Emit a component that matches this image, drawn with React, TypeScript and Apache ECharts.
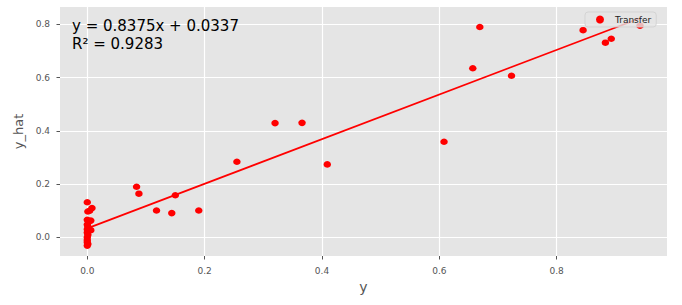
import React, { useEffect, useRef } from "react";
import * as echarts from "echarts";

// Observed values (y) and predictions (y_hat) for the "Transfer" set
const yObserved = [
  0, 0.001, 0.008, 0.004, 0, 0.006, 0.002, 0, 0.001, 0, 0.006, 0, 0.001, 0, 0, 0, 0.001, 0,
  0.084, 0.088, 0.118, 0.144, 0.15, 0.19, 0.255, 0.32, 0.366, 0.409, 0.608, 0.657, 0.669,
  0.723, 0.845, 0.883, 0.893, 0.942,
];
const yPredicted = [
  0.132, 0.097, 0.11, 0.1, 0.066, 0.063, 0.058, 0.048, 0.04, 0.03, 0.027, 0.018, 0.01, 0.0,
  -0.01, -0.018, -0.025, -0.031,
  0.19, 0.164, 0.101, 0.091, 0.158, 0.101, 0.284, 0.429, 0.43, 0.274, 0.359, 0.635, 0.79,
  0.607, 0.778, 0.731, 0.746, 0.795,
];
const fitSlope = 0.8375;
const fitIntercept = 0.0337;
const rSquared = 0.9283;
const seriesName = "Transfer";
const tickValues = [0, 0.2, 0.4, 0.6, 0.8];

const FONT = "DejaVu Sans";

export default function App() {
  const ref = useRef<HTMLDivElement>(null);

  useEffect(() => {
    document.body.style.margin = "0";
    if (!ref.current) return;
    const chart = echarts.init(ref.current, undefined, { renderer: "svg" });

    const points = yObserved.map((x, i) => [x, yPredicted[i]]);
    const xMin = Math.min(...yObserved);
    const xMax = Math.max(...yObserved);
    const fitLine = [
      [xMin, fitSlope * xMin + fitIntercept],
      [xMax, fitSlope * xMax + fitIntercept],
    ];

    const isTick = (v: number) => tickValues.some((t) => Math.abs(t - v) < 1e-6);
    const fmt = (v: number) => (isTick(v) ? v.toFixed(1) : "");

    const axisCommon = {
      type: "value" as const,
      nameLocation: "middle" as const,
      nameTextStyle: { color: "#555", fontFamily: FONT, fontSize: 14 },
      axisLine: { show: false, onZero: false },
      axisTick: {
        show: true,
        length: 3.5,
        lineStyle: { color: "#555", width: 1 },
        customValues: tickValues,
      },
      axisLabel: {
        color: "#555",
        fontFamily: FONT,
        fontSize: 9,
        margin: 10,
        formatter: fmt,
        customValues: tickValues,
      },
      splitLine: {
        show: true,
        lineStyle: { color: "#ffffff", width: 1.2 },
      },
    };

    chart.setOption({
      animation: false,
      grid: {
        left: 60,
        right: 15,
        top: 7,
        bottom: 49,
        show: true,
        backgroundColor: "#E5E5E5",
        borderWidth: 0,
      },
      xAxis: {
        ...axisCommon,
        name: "y",
        nameGap: 13,
        min: -0.0465,
        max: 0.988,
      },
      yAxis: {
        ...axisCommon,
        name: "y_hat",
        nameGap: 21,
        min: -0.07,
        max: 0.865,
        nameTextStyle: { color: "#555", fontFamily: FONT, fontSize: 13 },
      },
      legend: {
        data: [seriesName],
        left: 585,
        top: 12,
        z: 10,
        orient: "vertical",
        icon: "circle",
        itemWidth: 8,
        itemHeight: 8,
        padding: [3, 5, 3, 11],
        backgroundColor: "rgba(229,229,229,0.8)",
        borderColor: "rgba(210,210,210,0.9)",
        borderWidth: 1,
        borderRadius: 3,
        textStyle: { color: "#222", fontFamily: FONT, fontSize: 9, padding: [0, 0, 0, 6] },
      },
      graphic: [
        {
          type: "text",
          left: 72,
          top: 18.5,
          z: 100,
          style: {
            text: `y = ${fitSlope.toFixed(4)}x + ${fitIntercept.toFixed(4)}`,
            fill: "#000",
            fontFamily: FONT,
            fontSize: 15,
          },
        },
        {
          type: "text",
          left: 72,
          top: 36,
          z: 100,
          style: {
            text: `R² = ${rSquared.toFixed(4)}`,
            fill: "#000",
            fontFamily: FONT,
            fontSize: 15,
          },
        },
      ],
      series: [
        {
          name: seriesName,
          type: "scatter",
          data: points,
          symbol: "circle",
          symbolSize: [7.5, 6.5],
          itemStyle: { color: "#ff0000", opacity: 1 },
          z: 2,
        },
        {
          name: "fit",
          type: "line",
          data: fitLine,
          showSymbol: false,
          symbol: "none",
          lineStyle: { color: "#ff0000", width: 1.7 },
          z: 3,
        },
      ],
    });

    return () => chart.dispose();
  }, []);

  return (
    <div
      ref={ref}
      style={{ position: "absolute", left: 0, top: 0, width: 682, height: 305 }}
    />
  );
}
